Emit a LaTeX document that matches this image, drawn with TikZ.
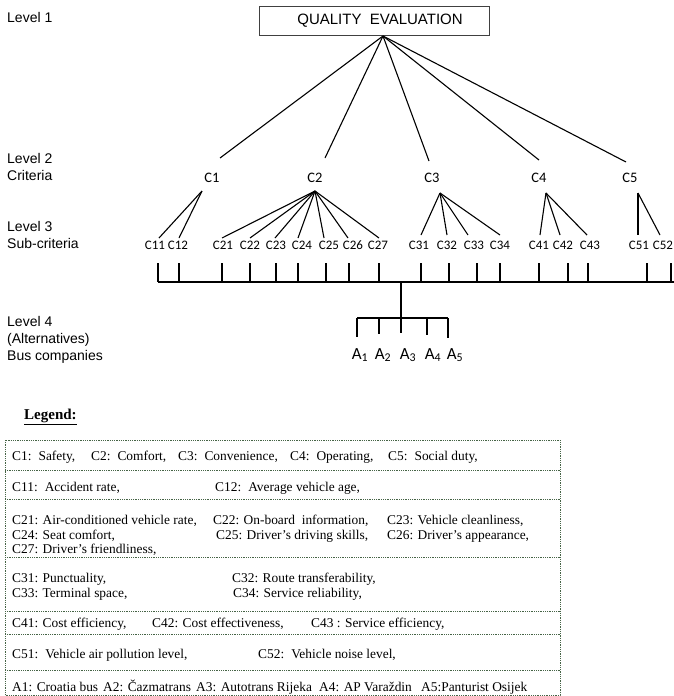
\documentclass[tikz,border=0pt]{standalone}
\usepackage{fontspec}
\setmainfont{Liberation Serif}
\newfontfamily\arialf{Liberation Sans}
\newfontfamily\calibf{Carlito}
\definecolor{legline}{RGB}{70,100,70}
\begin{document}
\begin{tikzpicture}[x=1pt,y=-1pt,
  lvl/.style={font=\arialf\fontsize{14}{17}\selectfont, anchor=west, inner sep=0pt, align=left},
  crit/.style={font=\calibf\fontsize{14.5}{16}\selectfont, inner sep=0pt, anchor=base},
  subc/.style={font=\calibf\fontsize{13}{15}\selectfont, inner sep=0pt, anchor=base},
  altn/.style={font=\calibf\fontsize{17}{19}\selectfont, inner sep=0pt, anchor=base},
  tree/.style={line width=1.1pt, black},
  leg/.style={font=\fontsize{13.4}{15}\selectfont, anchor=base west, inner sep=0pt},
  legbox/.style={draw=legline, dash pattern=on 1pt off 0.8pt, line width=0.9pt}
]
\useasboundingbox (0,0) rectangle (673,696);
\fill[white] (0,0) rectangle (673,696);

% level labels
\node[lvl] (lv1) at (7,17) {Level 1};
\node[lvl] (lv2) at (7,167) {Level 2\\Criteria};
\node[lvl] (lv3) at (7,234.5) {Level 3\\Sub-criteria};
\node[lvl] (lv4) at (7,340) {Level 4\\(Alternatives)\\Bus companies};

% goal
\node[draw=black!75, line width=0.9pt, minimum width=230pt, minimum height=29pt,
      inner sep=0pt, font=\arialf\fontsize{15}{18}\selectfont] (qe) at (374,20.5)
      {\hspace*{12pt}QUALITY\ \ EVALUATION};
\coordinate (apex) at (383,36);

% criteria
\node[crit] (c1) at (212,182.5) {C1};
\node[crit] (c2) at (315,182.5) {C2};
\node[crit] (c3) at (432,182.5) {C3};
\node[crit] (c4) at (539,182.5) {C4};
\node[crit] (c5) at (630,182.5) {C5};
\coordinate (u1) at (220,158);
\coordinate (u2) at (325,158);
\coordinate (u3) at (429,161);
\coordinate (u4) at (539,160);
\coordinate (u5) at (626,162);
\foreach \i in {1,...,5} \draw[tree] (apex) -- (u\i);

% tops of sub-criteria fans
\coordinate (t1) at (202,191);
\coordinate (t2) at (315,191);
\coordinate (t3) at (440,193);
\coordinate (t4) at (546,193);
\coordinate (t5) at (638,193);

% sub-criteria labels
\foreach \n/\x in {11/155,12/178,21/223,22/250,23/276,24/302,25/329,26/353,27/378,
                   31/419,32/447,33/474,34/500,41/539,42/563,43/590,51/639,52/663}
  \node[subc] (s\n) at (\x,249.5) {C\n};

% fan ends
\foreach \n/\x in {11/159,12/179,21/222,22/250,23/275,24/298,25/324,26/348,27/379}
  \coordinate (e\n) at (\x,238);
\foreach \n/\x in {31/421,32/447,33/468,34/500,41/540,42/560,43/587,51/638,52/660}
  \coordinate (e\n) at (\x,235);

\foreach \n in {11,12} \draw[tree] (t1) -- (e\n);
\foreach \n in {21,...,27} \draw[tree] (t2) -- (e\n);
\foreach \n in {31,...,34} \draw[tree] (t3) -- (e\n);
\foreach \n in {41,42,43} \draw[tree] (t4) -- (e\n);
\foreach \n in {51,52} \draw[tree] (t5) -- (e\n);

% ticks and bus line
\foreach \k/\x in {1/158,2/179,3/222,4/250,5/276,6/298,7/326,8/349,9/379,
                   10/421,11/449,12/477,13/500,14/539,15/568,16/588,17/647,18/671}
  {\coordinate (k\k) at (\x,263);
   \draw[tree] (k\k) -- (\x,282);}
\coordinate (busL) at (158,282);
\coordinate (busR) at (680,282);
\draw[tree] (busL) -- (busR);

% alternatives
\coordinate (stem) at (401,282);
\coordinate (abar) at (401,318);
\draw[tree] (stem) -- (abar);
\coordinate (barL) at (357,318);
\coordinate (barR) at (448,318);
\draw[tree] (barL) -- (barR);
\foreach \i/\x/\y in {1/357/337,2/379/334,3/401/333,4/427/335,5/448/338}
  {\coordinate (ab\i) at (\x,318); \draw[tree] (ab\i) -- (\x,\y);}
\foreach \i/\x in {1/360,2/383,3/408,4/433,5/455}
  \node[altn] (a\i) at (\x,359) {A\textsubscript{\i}};

% legend
\node[anchor=west, inner sep=0pt, font=\bfseries\fontsize{15}{18}\selectfont] (legt) at (24,417) {\underline{Legend:}};
\draw[legbox] (5,440) rectangle (560,695);
\foreach \y in {470,499,557,611,634,670}
  \draw[legbox] (5,\y) -- (560,\y);

\node[leg] (r1a) at (12,460.5) {C1:\hspace{7pt}Safety,};
\node[leg] (r1b) at (91,460.5) {C2:\hspace{7pt}Comfort,};
\node[leg] (r1c) at (178,460.5) {C3:\hspace{7pt}Convenience,};
\node[leg] (r1d) at (290,460.5) {C4:\hspace{7pt}Operating,};
\node[leg] (r1e) at (388,460.5) {C5:\hspace{7pt}Social duty,};

\node[leg] (r2a) at (12,491.5) {C11:\hspace{7pt}Accident rate,};
\node[leg] (r2b) at (215,491.5) {C12:\hspace{7pt}Average vehicle age,};

\node[leg] (r3a) at (12,524.5) {C21: Air-conditioned vehicle rate,};
\node[leg] (r3b) at (213,524.5) {C22: On-board\ \ information,};
\node[leg] (r3c) at (387,524.5) {C23: Vehicle cleanliness,};
\node[leg] (r3d) at (12,539.5) {C24: Seat comfort,};
\node[leg] (r3e) at (216,539.5) {C25: Driver's driving skills,};
\node[leg] (r3f) at (387,539.5) {C26: Driver's appearance,};
\node[leg] (r3g) at (12,553.5) {C27: Driver's friendliness,};

\node[leg] (r4a) at (12,582.5) {C31: Punctuality,};
\node[leg] (r4b) at (232,582.5) {C32: Route transferability,};
\node[leg] (r4c) at (12,597.5) {C33: Terminal space,};
\node[leg] (r4d) at (233,597.5) {C34: Service reliability,};

\node[leg] (r5a) at (12,627.5) {C41: Cost efficiency,};
\node[leg] (r5b) at (152,627.5) {C42: Cost effectiveness,};
\node[leg] (r5c) at (311,627.5) {C43 : Service efficiency,};

\node[leg] (r6a) at (12,658.5) {C51:\hspace{7pt}Vehicle air pollution level,};
\node[leg] (r6b) at (258,658.5) {C52:\hspace{7pt}Vehicle noise level,};

\node[leg] (r7a) at (12,691.5) {A1: Croatia bus};
\node[leg] (r7b) at (103,691.5) {A2: Čazmatrans};
\node[leg] (r7c) at (196,691.5) {A3: Autotrans Rijeka};
\node[leg] (r7d) at (319,691.5) {A4: AP Varaždin};
\node[leg] (r7e) at (421,691.5) {A5:Panturist Osijek};
\end{tikzpicture}
\end{document}
